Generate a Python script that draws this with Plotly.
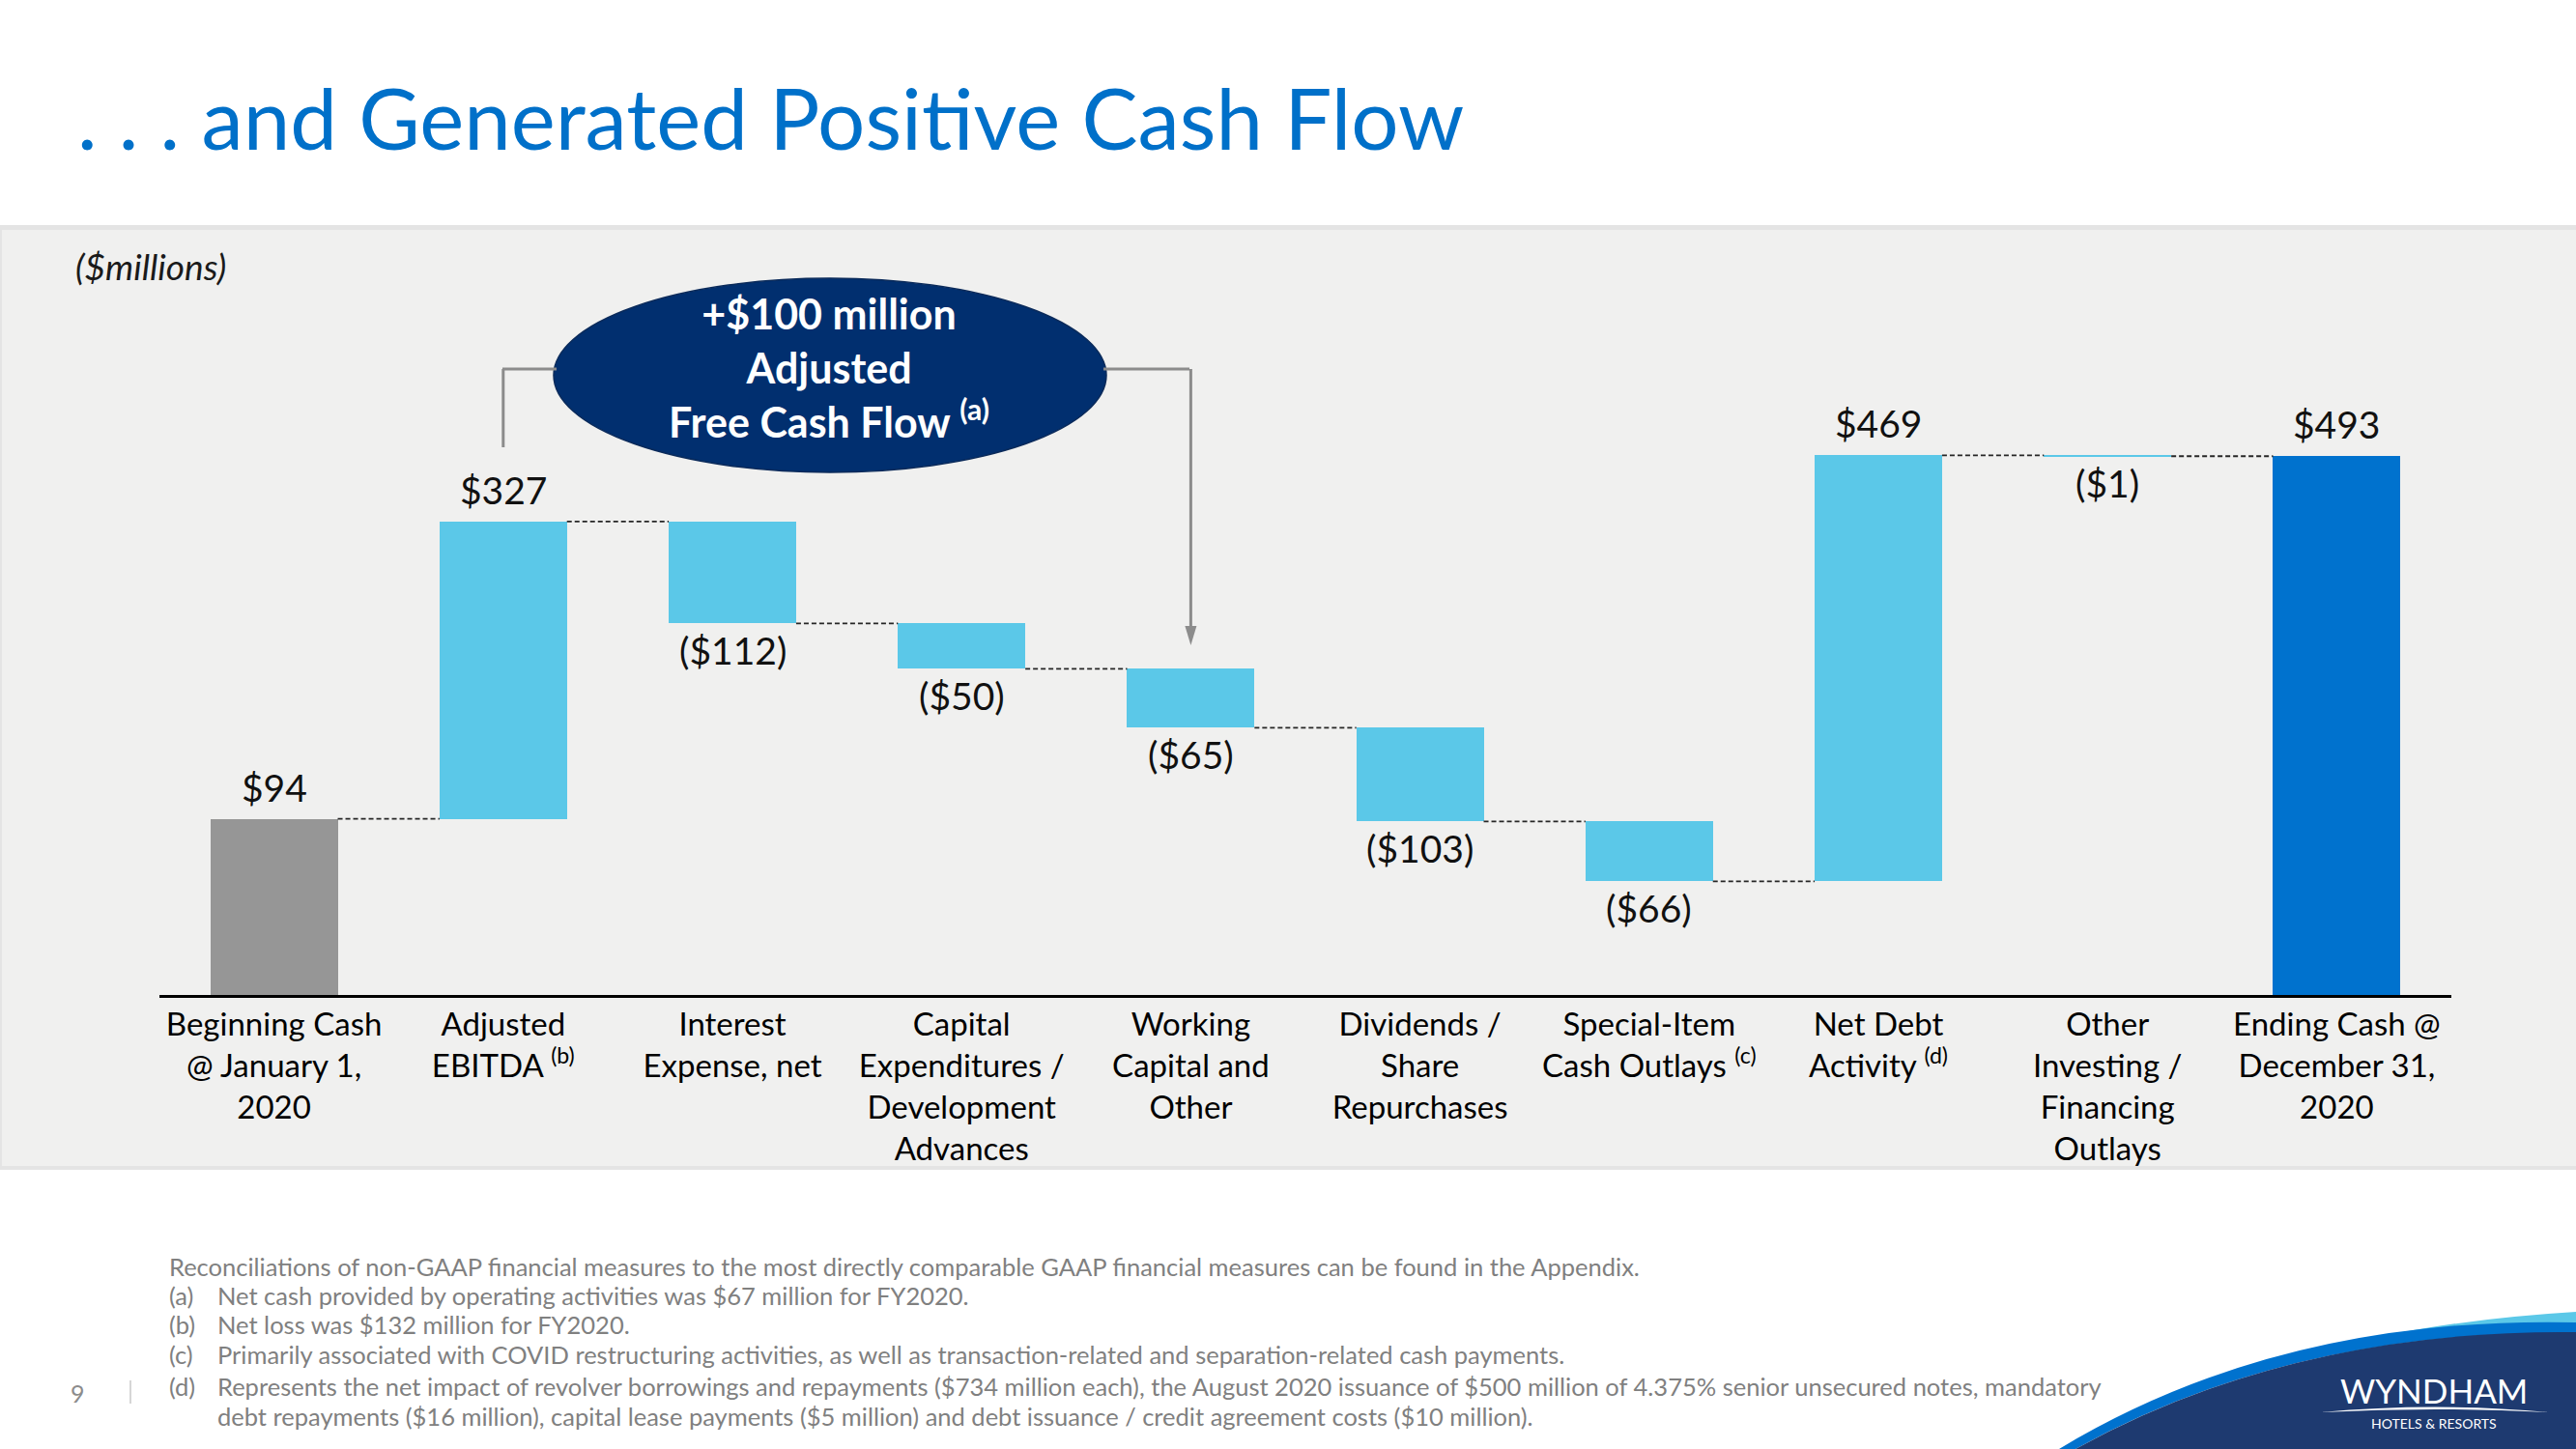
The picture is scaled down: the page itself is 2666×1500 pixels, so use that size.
import plotly.graph_objects as go

# ---------------- data ----------------
CATEGORIES = [
    "Beginning Cash<br>@ January 1,<br>2020",
    "Adjusted<br>EBITDA <sup>(b)</sup>",
    "Interest<br>Expense, net",
    "Capital<br>Expenditures /<br>Development<br>Advances",
    "Working<br>Capital and<br>Other",
    "Dividends /<br>Share<br>Repurchases",
    "Special-Item<br>Cash Outlays <sup>(c)</sup>",
    "Net Debt<br>Activity <sup>(d)</sup>",
    "Other<br>Investing /<br>Financing<br>Outlays",
    "Ending Cash @<br>December 31,<br>2020",
]
VALUES = [94, 327, -112, -50, -65, -103, -66, 469, -1, 493]
MEASURES = ["absolute", "relative", "relative", "relative", "relative",
            "relative", "relative", "relative", "relative", "total"]

TITLE = ". . . and Generated Positive Cash Flow"
UNITS = "($millions)"
CALLOUT = ["+$100 million", "Adjusted", "Free Cash Flow <sup>(a)</sup>"]
FOOT_INTRO = ("Reconciliations of non-GAAP financial measures to the most directly "
              "comparable GAAP financial measures can be found in the Appendix.")
FOOT_KEYS = ["(a)", "(b)", "(c)", "(d)", ""]
FOOT_TEXT = [
    "Net cash provided by operating activities was $67 million for FY2020.",
    "Net loss was $132 million for FY2020.",
    "Primarily associated with COVID restructuring activities, as well as transaction-related and separation-related cash payments.",
    "Represents the net impact of revolver borrowings and repayments ($734 million each), the August 2020 issuance of $500 million of 4.375% senior unsecured notes, mandatory",
    "debt repayments ($16 million), capital lease payments ($5 million) and debt issuance / credit agreement costs ($10 million).",
]
PAGE_NO = "9"

# ---------------- style ----------------
FONT = "Lato"
C_TITLE = "#0070C9"
C_ABS = "#969696"
C_REL = "#5BC8E8"
C_TOT = "#0072CE"
C_NAVY = "#012F6F"
C_PANEL = "#F0F0EF"
C_FOOT = "#808080"
C_BRACKET = "#8C8C8C"
BAR_W = 0.556
Y_FLOOR = -100
Y_TOP = 633.6

W, H = 2666, 1500
PL, PR, PT, PB = 165, 2537, 340, 1030


def xp(px):
    return (px - PL) / (PR - PL)


def yp(py):
    return (PB - py) / (PB - PT)


# ---------------- derived bar geometry ----------------
bases, heights, colors, ends = [], [], [], []
running = 0
for v, m in zip(VALUES, MEASURES):
    if m == "absolute":
        running = v
        bases.append(Y_FLOOR); heights.append(v - Y_FLOOR); colors.append(C_ABS)
    elif m == "total":
        running = v
        bases.append(Y_FLOOR); heights.append(v - Y_FLOOR); colors.append(C_TOT)
    else:
        bases.append(running); heights.append(v); colors.append(C_REL)
        running += v
    ends.append(running)

xs = list(range(len(VALUES)))

fig = go.Figure()
fig.add_trace(go.Bar(x=xs, y=heights, base=bases, width=BAR_W,
                     marker=dict(color=colors, line=dict(width=0)),
                     hoverinfo="skip", showlegend=False))

# connectors
cx, cy = [], []
for i in range(len(VALUES) - 1):
    cx += [i + BAR_W / 2, i + 1 - BAR_W / 2, None]
    cy += [ends[i], ends[i], None]
fig.add_trace(go.Scatter(x=cx, y=cy, mode="lines",
                         line=dict(color="#262626", width=1.8, dash="5px,3px"),
                         hoverinfo="skip", showlegend=False))

annotations = []
# value labels
for i, (v, m) in enumerate(zip(VALUES, MEASURES)):
    txt = f"${v}" if v >= 0 else f"(${-v})"
    if v >= 0:
        annotations.append(dict(x=i, y=ends[i], xref="x", yref="y", text=txt, showarrow=False,
                                yanchor="bottom", yshift=8,
                                font=dict(family=FONT, size=39, color="#111111")))
    else:
        annotations.append(dict(x=i, y=ends[i], xref="x", yref="y", text=txt, showarrow=False,
                                yanchor="top", yshift=-3,
                                font=dict(family=FONT, size=39, color="#111111")))

# title
annotations.append(dict(x=xp(78), y=yp(121), xref="paper", yref="paper", text=TITLE,
                        showarrow=False, xanchor="left", yanchor="middle",
                        font=dict(family=FONT, size=87, color=C_TITLE)))
# units
annotations.append(dict(x=xp(76), y=yp(276), xref="paper", yref="paper",
                        text=f"<i>{UNITS}</i>", showarrow=False, xanchor="left",
                        yanchor="middle", font=dict(family=FONT, size=37, color="#1a1a1a")))
# callout text
annotations.append(dict(x=xp(858), y=yp(381), xref="paper", yref="paper",
                        text="<br>".join(f"<b>{t}</b>" for t in CALLOUT), showarrow=False,
                        xanchor="center", yanchor="middle", align="center",
                        font=dict(family=FONT, size=43, color="white")))

# footnotes
FS = 25.5
annotations.append(dict(x=xp(173), y=yp(1311), xref="paper", yref="paper", text=FOOT_INTRO,
                        showarrow=False, xanchor="left", yanchor="middle",
                        font=dict(family=FONT, size=FS, color=C_FOOT)))
foot_y = [1341, 1371, 1402, 1435, 1466]
for k, t, fy in zip(FOOT_KEYS, FOOT_TEXT, foot_y):
    if k:
        annotations.append(dict(x=xp(173), y=yp(fy), xref="paper", yref="paper", text=k,
                                showarrow=False, xanchor="left", yanchor="middle",
                                font=dict(family=FONT, size=FS, color=C_FOOT)))
    annotations.append(dict(x=xp(223), y=yp(fy), xref="paper", yref="paper", text=t,
                            showarrow=False, xanchor="left", yanchor="middle",
                            font=dict(family=FONT, size=FS, color=C_FOOT)))
annotations.append(dict(x=xp(80), y=yp(1442), xref="paper", yref="paper", text=PAGE_NO,
                        showarrow=False, xanchor="center", yanchor="middle",
                        font=dict(family=FONT, size=25, color="#8C8C8C")))

# logo text
annotations.append(dict(x=xp(2519), y=yp(1439), xref="paper", yref="paper", text="WYNDHAM",
                        showarrow=False, xanchor="center", yanchor="middle",
                        font=dict(family=FONT, size=35, color="white")))
annotations.append(dict(x=xp(2519), y=yp(1473), xref="paper", yref="paper",
                        text="HOTELS &amp; RESORTS", showarrow=False, xanchor="center",
                        yanchor="middle", font=dict(family=FONT, size=14, color="white")))


def P(px, py):
    return f"{xp(px):.5f},{yp(py):.5f}"


AH = 6 / (PR - PL) * len(VALUES)  # half arrow-head width in x units
shapes = [
    # panel shadow + panel
    dict(type="rect", xref="paper", yref="paper", x0=xp(0), x1=xp(W), y0=yp(233), y1=yp(1211),
         fillcolor="#E4E4E4", line=dict(width=0), layer="below"),
    dict(type="rect", xref="paper", yref="paper", x0=xp(2), x1=xp(W), y0=yp(238), y1=yp(1207),
         fillcolor=C_PANEL, line=dict(width=0), layer="below"),
    # callout ellipse
    dict(type="circle", xref="paper", yref="paper", x0=xp(573), x1=xp(1145), y0=yp(489), y1=yp(288),
         fillcolor=C_NAVY, line=dict(color="#0A2A5A", width=1.5), layer="above"),
    # bracket lines
    dict(type="line", xref="x", yref="paper", x0=1, x1=1, y0=yp(463), y1=yp(382),
         line=dict(color=C_BRACKET, width=3)),
    dict(type="line", xref="paper", yref="paper", x0=xp(520), x1=xp(576), y0=yp(382), y1=yp(382),
         line=dict(color=C_BRACKET, width=3)),
    dict(type="line", xref="paper", yref="paper", x0=xp(1142), x1=xp(1231), y0=yp(382), y1=yp(382),
         line=dict(color=C_BRACKET, width=3)),
    dict(type="line", xref="x", yref="paper", x0=4, x1=4, y0=yp(382), y1=yp(652),
         line=dict(color=C_BRACKET, width=3)),
    dict(type="path", xref="x", yref="paper", fillcolor=C_BRACKET, line=dict(width=0),
         path=f"M {4 - AH:.5f},{yp(648):.5f} L {4 + AH:.5f},{yp(648):.5f} L 4,{yp(668):.5f} Z"),
    # page separator
    dict(type="line", xref="paper", yref="paper", x0=xp(135), x1=xp(135), y0=yp(1429), y1=yp(1453),
         line=dict(color="#C8C8C8", width=1.5)),
    # logo swoosh
    dict(type="path", xref="paper", yref="paper", fillcolor="#5BC8E8", line=dict(width=0),
         path=f"M {P(2380,1405)} Q {P(2500,1368)} {P(2666,1358)} L {P(2666,1385)} L {P(2500,1395)} Z"),
    dict(type="path", xref="paper", yref="paper", fillcolor="#0072CE", line=dict(width=0),
         path=f"M {P(2131,1500)} Q {P(2360,1362)} {P(2666,1369)} L {P(2666,1380)} "
              f"Q {P(2372,1376)} {P(2148,1500)} Z"),
    dict(type="path", xref="paper", yref="paper", fillcolor="#1E3A70", line=dict(width=0),
         path=f"M {P(2148,1500)} Q {P(2372,1376)} {P(2666,1379)} L {P(2666,1500)} Z"),
    dict(type="path", xref="paper", yref="paper", fillcolor="white", line=dict(width=0),
         path=f"M {P(2402,1462)} Q {P(2520,1451)} {P(2638,1462)} Q {P(2520,1456)} {P(2402,1462)} Z"),
]

fig.update_layout(
    width=W, height=H, autosize=False,
    margin=dict(l=PL, r=W - PR, t=PT, b=H - PB, pad=0),
    paper_bgcolor="white", plot_bgcolor="rgba(0,0,0,0)",
    bargap=0, showlegend=False,
    xaxis=dict(range=[-0.5, len(VALUES) - 0.5], tickvals=xs, ticktext=CATEGORIES,
               showline=True, linecolor="black", linewidth=2.5, showgrid=False,
               zeroline=False, ticks="", tickangle=0,
               tickfont=dict(family=FONT, size=33, color="black"), fixedrange=True),
    yaxis=dict(range=[Y_FLOOR, Y_TOP], visible=False, showgrid=False, zeroline=False,
               fixedrange=True),
    annotations=annotations, shapes=shapes,
)

fig.write_html("out.html", config={"displayModeBar": False},
               post_script="document.body.style.margin='0';document.body.style.overflow='hidden';")
